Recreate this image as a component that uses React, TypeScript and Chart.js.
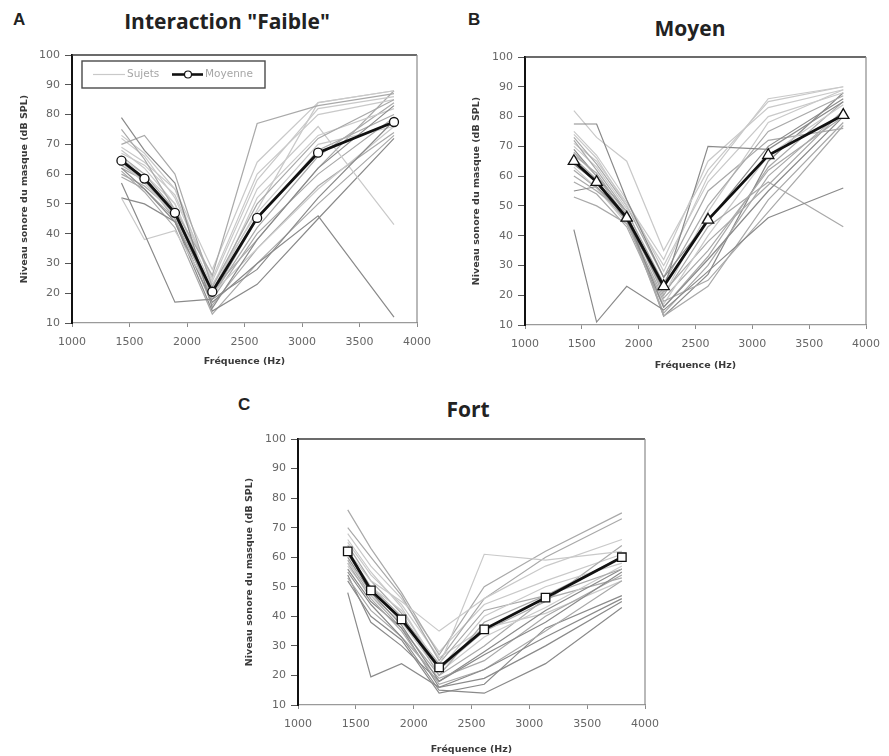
import React, { useEffect, useRef } from 'react';
import { Chart, registerables } from 'chart.js';

Chart.register(...registerables);

// Test frequencies (Hz), shared by the three panels
const FREQS = [1430, 1630, 1895, 2220, 2610, 3140, 3800];

// Axis ranges / tick steps
const X_MIN = 1000;
const X_MAX = 4000;
const X_STEP = 500;
const Y_MIN = 10;
const Y_MAX = 100;
const Y_STEP = 10;

// Line shades for individual subjects
const DARK = '#8a8a8a';
const MID = '#a9a9a9';
const LIGHT = '#c9c9c9';

// Panel A — Interaction "Faible"
const SUBJECTS_A = [
  [79, 68, 57, 15, 38, 62, 83],
  [70, 73, 60, 22, 50, 72, 85],
  [57, 40, 17, 18, 28, 52, 78],
  [52, 38, 41, 20, 35, 55, 76],
  [52, 50, 44, 17, 30, 46, 12],
  [75, 65, 48, 26, 77, 83, 87],
  [68, 62, 50, 22, 55, 76, 43],
  [66, 60, 48, 19, 45, 68, 80],
  [64, 57, 46, 21, 48, 84, 88],
  [62, 55, 44, 14, 23, 45, 72],
  [60, 56, 47, 18, 40, 60, 79],
  [72, 66, 52, 24, 58, 82, 86],
  [69, 64, 55, 28, 64, 84, 88],
  [63, 58, 45, 16, 35, 56, 74],
  [65, 60, 50, 20, 52, 73, 82],
  [61, 54, 42, 13, 30, 50, 73],
  [67, 63, 53, 25, 60, 80, 85],
  [59, 55, 45, 19, 42, 66, 84],
  [73, 67, 55, 23, 47, 70, 76],
  [62, 58, 46, 21, 38, 62, 88],
];
const SHADES_A = [DARK, MID, DARK, LIGHT, DARK, MID, LIGHT, MID, LIGHT, DARK, MID, LIGHT, LIGHT, MID, LIGHT, MID, LIGHT, MID, LIGHT, MID];
const MEAN_A = [64.5, 58.5, 47, 20.5, 45.3, 67.2, 77.5];

// Panel B — Moyen
const SUBJECTS_B = [
  [42, 11, 23, 15, 28, 46, 56],
  [77.5, 77.5, 52, 26, 45, 70, 86],
  [82, 73, 65, 35, 62, 85, 90],
  [55, 56.5, 46, 16, 32, 55, 80],
  [53, 50, 44, 18, 25, 48, 77],
  [64, 58, 45, 22, 70, 69, 85],
  [60, 55, 47, 20, 43, 58, 43],
  [74, 66, 50, 30, 58, 80, 88],
  [72, 62, 48, 24, 50, 75, 87],
  [68, 60, 46, 13, 23, 52, 78],
  [70, 63, 49, 20, 48, 78, 89],
  [66, 59, 45, 14, 30, 60, 82],
  [63, 56, 44, 17, 40, 67, 84],
  [75, 67, 52, 28, 60, 86, 90],
  [62, 56, 45, 19, 35, 62, 80],
  [73, 64, 50, 26, 55, 72, 76],
  [67, 61, 47, 21, 38, 57, 82],
  [69, 60, 48, 13, 27, 65, 88],
  [71, 65, 51, 32, 65, 83, 89],
  [58, 54, 43, 16, 33, 63, 85],
];
const SHADES_B = [DARK, DARK, LIGHT, DARK, MID, DARK, MID, LIGHT, MID, MID, LIGHT, MID, LIGHT, LIGHT, MID, MID, MID, DARK, LIGHT, MID];
const MEAN_B = [65, 58, 46, 23, 45.3, 67, 80.5];

// Panel C — Fort
const SUBJECTS_C = [
  [48, 19.5, 24, 16, 22, 33, 46],
  [62, 52, 45, 35, 46, 57, 66],
  [58, 50, 42, 23, 61, 59, 62],
  [55, 44, 33, 15, 14, 24, 43],
  [76, 63, 48, 27, 50, 62, 75],
  [70, 60, 47, 25, 46, 60, 73],
  [66, 55, 43, 22, 40, 50, 58],
  [64, 52, 41, 20, 38, 47, 56],
  [60, 48, 37, 18, 27, 38, 55],
  [58, 46, 35, 17, 22, 35, 52],
  [56, 45, 36, 16, 19, 30, 45],
  [53, 42, 33, 19, 25, 40, 54],
  [57, 47, 38, 21, 33, 43, 57],
  [62, 50, 40, 24, 42, 47, 60],
  [54, 38, 30, 18, 28, 42, 56],
  [65, 54, 44, 26, 36, 41, 52],
  [52, 40, 32, 14, 17, 36, 47],
  [61, 49, 39, 22, 35, 45, 64],
  [59, 47, 36, 20, 30, 46, 53],
  [68, 57, 46, 28, 44, 52, 61],
];
const SHADES_C = [DARK, LIGHT, LIGHT, DARK, MID, MID, LIGHT, MID, DARK, MID, DARK, MID, LIGHT, MID, DARK, LIGHT, DARK, MID, MID, LIGHT];
const MEAN_C = [62, 48.8, 39, 22.7, 35.6, 46.3, 60];

const Y_TITLE = 'Niveau sonore du masque (dB SPL)';
const X_TITLE = 'Fréquence (Hz)';

const TICK_FONT = { family: '"DejaVu Sans"', size: 11 };
const AXIS_TITLE_FONT = { family: '"DejaVu Sans"', size: 9.5, weight: 'bold' as const };

// Top and right sides of the plot frame
const framePlugin = {
  id: 'plotFrame',
  beforeDatasetsDraw(chart: any) {
    const { ctx, chartArea } = chart;
    const { left, top, right, bottom } = chartArea;
    ctx.save();
    ctx.strokeStyle = '#3a3a3a';
    ctx.lineWidth = 1.6;
    ctx.beginPath();
    ctx.moveTo(left, top);
    ctx.lineTo(right, top);
    ctx.stroke();
    ctx.strokeStyle = '#8a8a8a';
    ctx.lineWidth = 1.2;
    ctx.beginPath();
    ctx.moveTo(right, top);
    ctx.lineTo(right, bottom);
    ctx.stroke();
    ctx.restore();
  },
};

// Boxed legend in the upper-left corner of panel A
const legendBoxPlugin = {
  id: 'legendBox',
  afterDraw(chart: any) {
    const ctx = chart.ctx;
    const x0 = chart.chartArea.left + 10;
    const y0 = chart.chartArea.top + 6;
    const w = 183;
    const h = 27;
    const cy = y0 + h / 2;
    ctx.save();
    ctx.fillStyle = '#ffffff';
    ctx.fillRect(x0, y0, w, h);
    ctx.strokeStyle = '#4a4a4a';
    ctx.lineWidth = 1.4;
    ctx.strokeRect(x0, y0, w, h);

    ctx.strokeStyle = LIGHT;
    ctx.lineWidth = 1.2;
    ctx.beginPath();
    ctx.moveTo(x0 + 11, cy);
    ctx.lineTo(x0 + 43, cy);
    ctx.stroke();

    ctx.font = '10.5px "DejaVu Sans"';
    ctx.fillStyle = '#a6a6a6';
    ctx.textBaseline = 'middle';
    ctx.textAlign = 'left';
    ctx.fillText('Sujets', x0 + 45, cy);

    ctx.strokeStyle = '#111';
    ctx.lineWidth = 2.6;
    ctx.beginPath();
    ctx.moveTo(x0 + 90, cy);
    ctx.lineTo(x0 + 121, cy);
    ctx.stroke();
    ctx.beginPath();
    ctx.arc(x0 + 106, cy, 3.5, 0, Math.PI * 2);
    ctx.fillStyle = '#fff';
    ctx.fill();
    ctx.lineWidth = 1.2;
    ctx.stroke();

    ctx.fillStyle = '#a6a6a6';
    ctx.fillText('Moyenne', x0 + 123, cy);
    ctx.restore();
  },
};

type PanelProps = {
  left: number;
  top: number;
  width: number;
  height: number;
  plotLeft: number;
  plotTop: number;
  plotRight: number;
  plotBottom: number;
  yTitlePad: number;
  xTitlePad: number;
  subjects: number[][];
  shades: string[];
  mean: number[];
  marker: 'circle' | 'triangle' | 'rect';
  markerRadius: number;
  withLegend?: boolean;
};

function Panel(p: PanelProps) {
  const ref = useRef<HTMLCanvasElement>(null);

  useEffect(() => {
    if (!ref.current) return;
    const toPoints = (row: number[]) => FREQS.map((f, i) => ({ x: f, y: row[i] }));
    const datasets: any[] = [
      {
        label: 'Moyenne',
        data: toPoints(p.mean),
        borderColor: '#111',
        borderWidth: 2.8,
        pointStyle: p.marker,
        pointRadius: p.markerRadius,
        pointBackgroundColor: '#fff',
        pointBorderColor: '#111',
        pointBorderWidth: 1.3,
        order: 0,
      },
      ...p.subjects.map((row, k) => ({
        label: 'Sujets',
        data: toPoints(row),
        borderColor: p.shades[k % p.shades.length],
        borderWidth: 1.2,
        pointRadius: 0,
        order: 1,
      })),
    ];

    const chart = new Chart(ref.current, {
      type: 'line',
      data: { datasets },
      options: {
        animation: false,
        responsive: false,
        devicePixelRatio: 1,
        layout: {
          padding: { left: 0, top: p.plotTop, right: p.width - p.plotRight, bottom: 0 },
        },
        elements: { line: { tension: 0 } },
        plugins: {
          legend: { display: false },
          tooltip: { enabled: false },
        },
        scales: {
          x: {
            type: 'linear',
            min: X_MIN,
            max: X_MAX,
            ticks: {
              stepSize: X_STEP,
              callback: (v: any) => String(v),
              font: TICK_FONT,
              color: '#666',
              padding: 9,
              maxRotation: 0,
            },
            grid: { drawOnChartArea: false, drawTicks: true, tickLength: 4, color: '#8a8a8a' },
            border: { color: '#9a9a9a', width: 1.2 },
            title: {
              display: true,
              text: X_TITLE,
              font: AXIS_TITLE_FONT,
              color: '#3a3a3a',
              padding: { top: 0, bottom: p.xTitlePad },
            },
            afterFit: (s: any) => {
              s.height = p.height - p.plotBottom;
            },
          },
          y: {
            type: 'linear',
            min: Y_MIN,
            max: Y_MAX,
            ticks: {
              stepSize: Y_STEP,
              font: TICK_FONT,
              color: '#666',
              padding: 5,
            },
            grid: { drawOnChartArea: false, drawTicks: true, tickLength: 7, color: '#555' },
            border: { color: '#111', width: 2 },
            title: {
              display: true,
              text: Y_TITLE,
              font: AXIS_TITLE_FONT,
              color: '#3a3a3a',
              padding: { top: p.yTitlePad, bottom: 0 },
            },
            afterFit: (s: any) => {
              s.width = p.plotLeft;
            },
          },
        },
      } as any,
      plugins: p.withLegend ? [framePlugin, legendBoxPlugin] : [framePlugin],
    });
    return () => chart.destroy();
  }, []);

  return (
    <canvas
      ref={ref}
      width={p.width}
      height={p.height}
      style={{ position: 'absolute', left: p.left, top: p.top, width: p.width, height: p.height }}
    />
  );
}

const panelLetter: React.CSSProperties = {
  position: 'absolute',
  font: 'bold 17px "Liberation Sans"',
  lineHeight: '17px',
  color: '#222',
};

const panelTitle: React.CSSProperties = {
  position: 'absolute',
  width: 400,
  textAlign: 'center',
  font: 'bold 21px "Open Sans"',
  lineHeight: '21px',
  color: '#222',
};

export default function App() {
  return (
    <div
      style={{
        position: 'absolute',
        left: 0,
        top: 0,
        width: 889,
        height: 756,
        background: '#fff',
        overflow: 'hidden',
      }}
    >
      <div style={{ ...panelLetter, left: 13, top: 11 }}>A</div>
      <div style={{ ...panelTitle, left: 27, top: 11 }}>Interaction "Faible"</div>
      <Panel
        left={0}
        top={40}
        width={440}
        height={330}
        plotLeft={72}
        plotTop={15}
        plotRight={417}
        plotBottom={283}
        yTitlePad={19}
        xTitlePad={3}
        subjects={SUBJECTS_A}
        shades={SHADES_A}
        mean={MEAN_A}
        marker="circle"
        markerRadius={4.5}
        withLegend
      />

      <div style={{ ...panelLetter, left: 468, top: 11 }}>B</div>
      <div style={{ ...panelTitle, left: 490, top: 18 }}>Moyen</div>
      <Panel
        left={445}
        top={40}
        width={444}
        height={335}
        plotLeft={80}
        plotTop={17}
        plotRight={427}
        plotBottom={285}
        yTitlePad={26}
        xTitlePad={4}
        subjects={SUBJECTS_B}
        shades={SHADES_B}
        mean={MEAN_B}
        marker="triangle"
        markerRadius={6.5}
      />

      <div style={{ ...panelLetter, left: 238, top: 396 }}>C</div>
      <div style={{ ...panelTitle, left: 268, top: 399 }}>Fort</div>
      <Panel
        left={220}
        top={420}
        width={450}
        height={336}
        plotLeft={78}
        plotTop={19}
        plotRight={425}
        plotBottom={285}
        yTitlePad={24}
        xTitlePad={1}
        subjects={SUBJECTS_C}
        shades={SHADES_C}
        mean={MEAN_C}
        marker="rect"
        markerRadius={6}
      />
    </div>
  );
}
